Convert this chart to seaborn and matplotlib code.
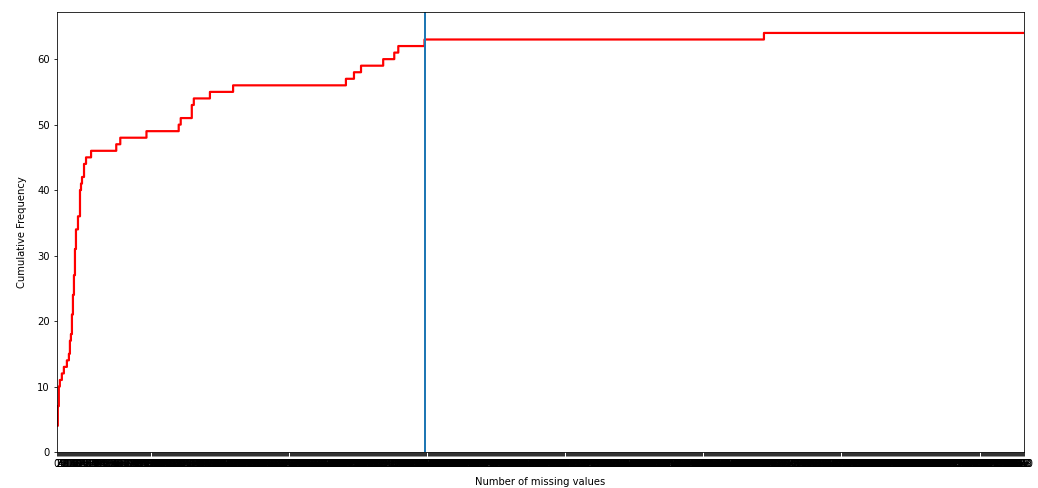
import numpy as np
import pandas as pd
import matplotlib
matplotlib.use("Agg")
import matplotlib.pyplot as plt
import seaborn as sns

# Number of missing values per column (unique values) and how many columns have it
missing_values = [0, 1, 2, 3, 5, 7, 10, 12, 13, 14, 15, 16, 17, 18, 19, 21, 23, 24, 25,
                  27, 29, 34, 59, 63, 89, 121, 123, 134, 136, 152, 175, 287, 295, 302,
                  324, 335, 339, 365, 702]
column_counts = [4, 3, 3, 1, 1, 1, 1, 1, 2, 1, 3, 3, 3, 4, 3, 2, 4, 1, 1,
                 2, 1, 1, 1, 1, 1, 1, 1, 2, 1, 1, 1, 1, 1, 1,
                 1, 1, 1, 1, 1]
x_ticks = list(range(0, 961))
threshold = 366

df = pd.DataFrame({"missing": missing_values, "count": column_counts})

fig = plt.figure(figsize=(1038 / 72, 488 / 72), dpi=72)
left = 56.82
ax = fig.add_axes([left / 1038, 1 - 452 / 488, 967 / 1038, (452 - 12) / 488])

sns.histplot(data=df, x="missing", weights="count", bins=x_ticks,
             cumulative=True, element="step", fill=False,
             color="red", linewidth=2.2, ax=ax)
ax.axvline(threshold, color="C0", linewidth=2)

ax.set_xlim(0, 960)
ax.set_ylim(0, 67.2)
ax.set_xticks(x_ticks)
ax.set_xticklabels([str(t) for t in x_ticks], fontsize=10)
ax.set_xlabel("Number of missing values", fontsize=10, labelpad=8)
ax.set_ylabel("Cumulative Frequency", fontsize=10, labelpad=10)

fig.savefig("out.png", dpi=72)
